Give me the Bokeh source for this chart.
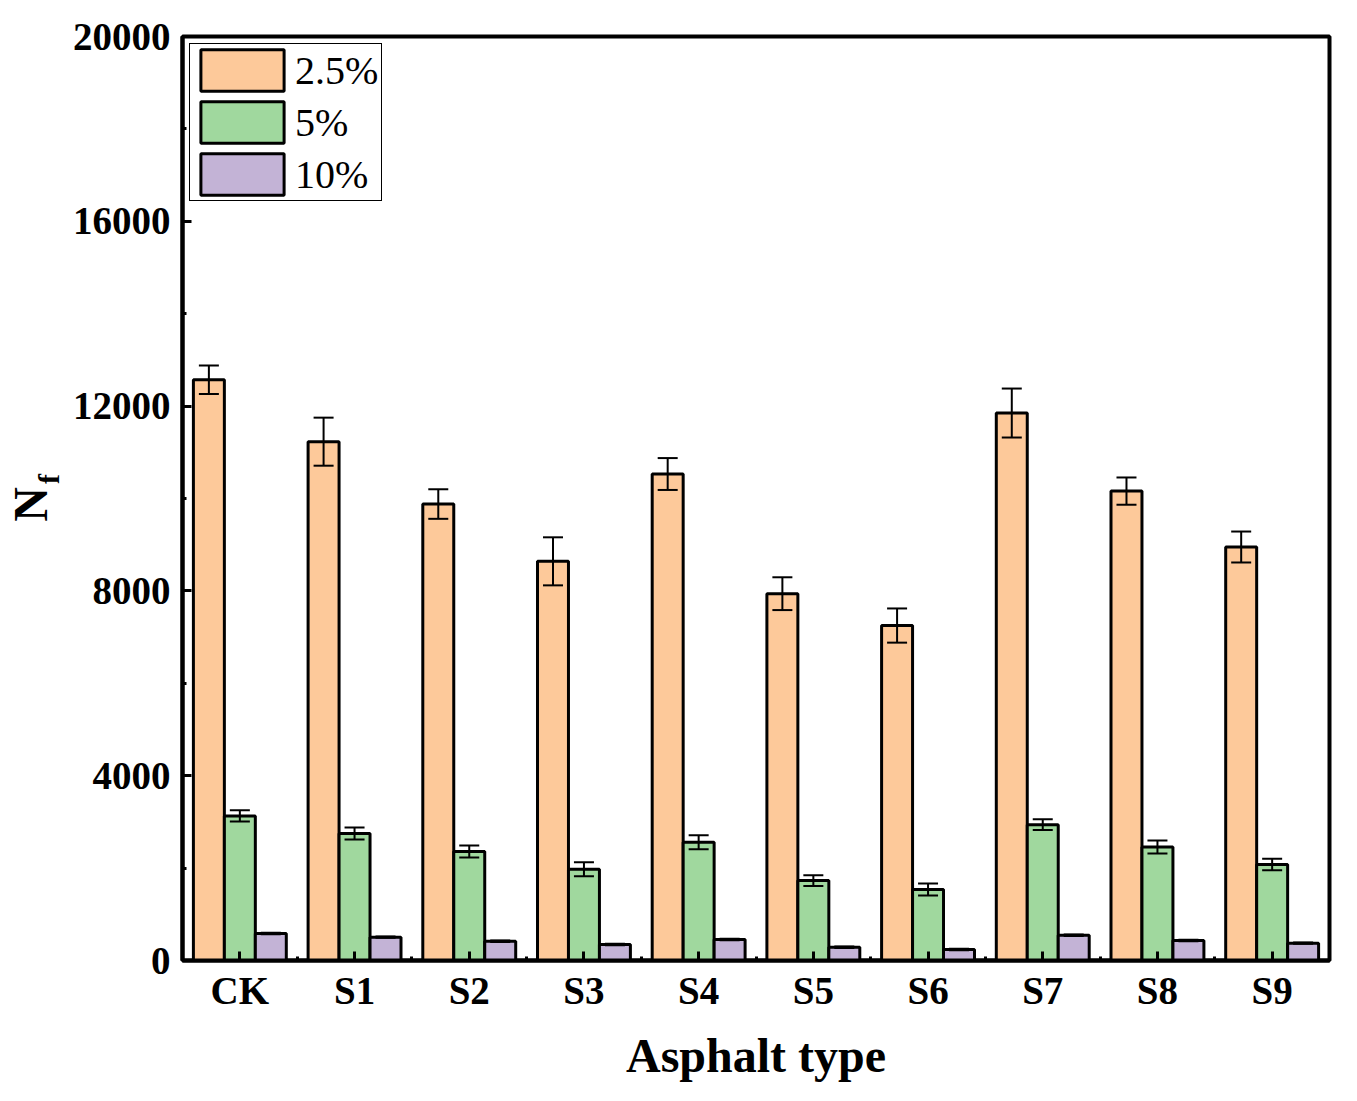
import numpy as np
from bokeh.plotting import figure
from bokeh.models import (ColumnDataSource, Whisker, TeeHead, FixedTicker, Range1d,
                          Legend, LegendItem, Label)
from bokeh.embed import file_html
from bokeh.resources import INLINE

categories = ["CK", "S1", "S2", "S3", "S4", "S5", "S6", "S7", "S8", "S9"]
series_names = ["2.5%", "5%", "10%"]
values_25 = [12570, 11230, 9880, 8640, 10530, 7940, 7250, 11850, 10160, 8950]
err_25 = [310, 520, 320, 520, 345, 355, 370, 530, 295, 335]
values_5 = [3130, 2750, 2360, 1975, 2560, 1730, 1535, 2940, 2455, 2080]
err_5 = [120, 130, 130, 150, 150, 115, 130, 115, 140, 125]
values_10 = [584, 505, 418, 346, 455, 288, 238, 548, 433, 375]
err_10 = [15, 15, 15, 15, 15, 15, 15, 15, 15, 15]
colors = ["#FDC99A", "#A0D89E", "#C3B3D6"]

y_ticks = [0, 4000, 8000, 12000, 16000, 20000]
y_minor = [2000, 6000, 10000, 14000, 18000]

FONT = "Liberation Serif"

p = figure(width=1341, height=1085, output_backend="svg", toolbar_location=None,
           x_range=Range1d(-0.5, 9.5), y_range=Range1d(0, 20000),
           min_border_left=182, min_border_right=12, min_border_top=36, min_border_bottom=125)

idx = np.arange(len(categories))
bw = 0.27
offsets = [-bw, 0.0, bw]
renderers = []
for vals, errs, off, col in zip([values_25, values_5, values_10],
                                [err_25, err_5, err_10], offsets, colors):
    v = np.array(vals, dtype=float)
    e = np.array(errs, dtype=float)
    src = ColumnDataSource(dict(x=idx + off, top=v, upper=v + e, lower=v - e))
    r = p.vbar(x="x", top="top", width=bw, source=src, fill_color=col,
               line_color="black", line_width=3)
    renderers.append(r)
    w = Whisker(source=src, base="x", upper="upper", lower="lower", dimension="height",
                line_color="black", line_width=2, level="overlay",
                upper_head=TeeHead(size=20, line_width=2, line_color="black"),
                lower_head=TeeHead(size=20, line_width=2, line_color="black"))
    p.add_layout(w)

p.grid.visible = False
p.outline_line_color = "black"
p.outline_line_width = 4
p.outline_line_alpha = 1.0

# axes
p.xaxis.ticker = FixedTicker(ticks=list(range(len(categories))),
                             minor_ticks=[i + 0.5 for i in range(len(categories) - 1)])
p.xaxis.major_label_overrides = {i: c for i, c in enumerate(categories)}
p.yaxis.ticker = FixedTicker(ticks=y_ticks, minor_ticks=y_minor)

for ax in [p.xaxis[0], p.yaxis[0]]:
    ax.axis_line_width = 4
    ax.axis_line_color = "black"
    ax.major_tick_in = 9
    ax.major_tick_out = 0
    ax.minor_tick_in = 4
    ax.minor_tick_out = 0
    ax.major_tick_line_width = 3
    ax.minor_tick_line_width = 3
    ax.major_label_text_font = FONT
    ax.major_label_text_font_style = "bold"
    ax.major_label_text_font_size = "39px"
    ax.major_label_text_color = "black"

p.xaxis.major_label_standoff = 8
p.yaxis.major_label_standoff = 12
p.xaxis.axis_label = "Asphalt type"
p.xaxis.axis_label_text_font = FONT
p.xaxis.axis_label_text_font_style = "bold"
p.xaxis.axis_label_text_font_size = "48px"
p.xaxis.axis_label_text_color = "black"
p.xaxis.axis_label_standoff = 14

# y axis label N_f (placed in side panels so it is not clipped to the frame)
lab_n = Label(x=-1.825, y=9870, text="N", angle=np.pi / 2, text_align="center",
              text_baseline="middle", text_font=FONT, text_font_style="bold",
              text_font_size="48px", text_color="black")
lab_f = Label(x=-1.668, y=10420, text="f", angle=np.pi / 2, text_align="center",
              text_baseline="middle", text_font=FONT, text_font_style="bold",
              text_font_size="30px", text_color="black")
p.add_layout(lab_n, "left")
p.add_layout(lab_f, "above")

legend = Legend(items=[LegendItem(label=n, renderers=[r]) for n, r in zip(series_names, renderers)],
                location="top_left", margin=7, padding=0, spacing=-3,
                glyph_width=104, glyph_height=52, label_standoff=1, label_width=86,
                label_text_font=FONT, label_text_font_size="40px", label_text_color="black",
                border_line_color="black", border_line_width=1.5, border_line_alpha=1.0,
                background_fill_color="white", background_fill_alpha=1.0)
p.add_layout(legend)

open("out.html", "w").write(file_html(p, INLINE))
